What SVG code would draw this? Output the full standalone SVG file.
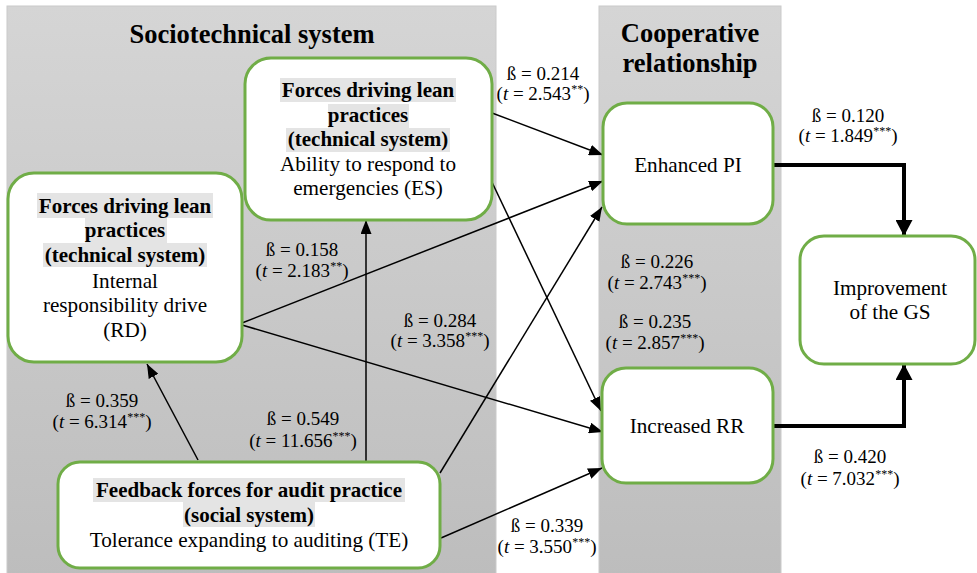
<svg xmlns="http://www.w3.org/2000/svg" width="977" height="573" viewBox="0 0 977 573" font-family="'Liberation Serif', 'Times New Roman', 'DejaVu Serif', serif">
<defs>
<linearGradient id="pg" x1="0" y1="0" x2="0" y2="1">
<stop offset="0" stop-color="#d5d5d5"/>
<stop offset="1" stop-color="#bdbdbd"/>
</linearGradient>
<marker id="ah" markerUnits="userSpaceOnUse" markerWidth="14" markerHeight="11" refX="14" refY="5.5" orient="auto">
<path d="M0,0 L14,5.5 L0,11 z" fill="#000"/>
</marker>
<marker id="ahb" markerUnits="userSpaceOnUse" markerWidth="16" markerHeight="17" refX="16" refY="8.5" orient="auto">
<path d="M0,0 L16,8.5 L0,17 z" fill="#000"/>
</marker>
</defs>
<style>
.panel{fill:url(#pg);stroke:#cacaca;stroke-width:1}
.node{fill:#fff;stroke:#70ad47;stroke-width:3}
.hl{fill:#e4e4e4}
text{font-family:'Liberation Serif','Times New Roman',serif}
.title{font-weight:bold;font-size:26.5px;fill:#000;text-anchor:middle}
.hd{font-weight:bold;font-size:21px;fill:#000;text-anchor:middle}
.tx{font-size:21.2px;fill:#000;text-anchor:middle}
.lb{font-size:19px;fill:#000;text-anchor:middle}
.sup{font-size:12px}
.ln{stroke:#000;stroke-width:1.5;fill:none;marker-end:url(#ah)}
.lnb{stroke:#000;stroke-width:4;fill:none;marker-end:url(#ahb)}
</style>

<g id="panel-sociotechnical">
<rect class="panel" x="7" y="6" width="489" height="570"/>
<text class="title" x="252" y="43">Sociotechnical system</text>
</g>
<g id="panel-cooperative">
<rect class="panel" x="599" y="6" width="182" height="570"/>
<text class="title" x="690" y="42">Cooperative</text>
<text class="title" x="690" y="72">relationship</text>
</g>

<g id="connectors">
<line class="ln" x1="492" y1="113" x2="603" y2="155"/>
<line class="ln" x1="490" y1="178" x2="601" y2="411"/>
<line class="ln" x1="242" y1="323" x2="603" y2="181"/>
<line class="ln" x1="242" y1="325" x2="603" y2="432"/>
<line class="ln" x1="366" y1="462" x2="366" y2="220"/>
<line class="ln" x1="198" y1="460" x2="147" y2="364"/>
<line class="ln" x1="440" y1="473" x2="602" y2="207"/>
<line class="ln" x1="441" y1="538" x2="602" y2="468"/>
<polyline class="lnb" points="773,165 904,165 904,236"/>
<polyline class="lnb" points="773,426 904,426 904,364"/>
</g>

<g id="labels">
<text class="lb" x="543" y="80">ß = 0.214</text>
<text class="lb" x="543" y="100">(<tspan font-style="italic">t</tspan> = 2.543<tspan class="sup" dy="-7">**</tspan><tspan dy="7">)</tspan></text>
<text class="lb" x="848" y="122">ß = 0.120</text>
<text class="lb" x="848" y="142">(<tspan font-style="italic">t</tspan> = 1.849<tspan class="sup" dy="-7">***</tspan><tspan dy="7">)</tspan></text>
<text class="lb" x="302" y="256">ß = 0.158</text>
<text class="lb" x="302" y="277">(<tspan font-style="italic">t</tspan> = 2.183<tspan class="sup" dy="-7">**</tspan><tspan dy="7">)</tspan></text>
<text class="lb" x="440" y="327">ß = 0.284</text>
<text class="lb" x="440" y="347">(<tspan font-style="italic">t</tspan> = 3.358<tspan class="sup" dy="-7">***</tspan><tspan dy="7">)</tspan></text>
<text class="lb" x="657" y="268">ß = 0.226</text>
<text class="lb" x="657" y="289">(<tspan font-style="italic">t</tspan> = 2.743<tspan class="sup" dy="-7">***</tspan><tspan dy="7">)</tspan></text>
<text class="lb" x="655" y="328">ß = 0.235</text>
<text class="lb" x="655" y="349">(<tspan font-style="italic">t</tspan> = 2.857<tspan class="sup" dy="-7">***</tspan><tspan dy="7">)</tspan></text>
<text class="lb" x="102" y="407">ß = 0.359</text>
<text class="lb" x="102" y="428">(<tspan font-style="italic">t</tspan> = 6.314<tspan class="sup" dy="-7">***</tspan><tspan dy="7">)</tspan></text>
<text class="lb" x="303" y="425">ß = 0.549</text>
<text class="lb" x="303" y="447">(<tspan font-style="italic">t</tspan> = 11.656<tspan class="sup" dy="-7">***</tspan><tspan dy="7">)</tspan></text>
<text class="lb" x="547" y="532">ß = 0.339</text>
<text class="lb" x="547" y="553">(<tspan font-style="italic">t</tspan> = 3.550<tspan class="sup" dy="-7">***</tspan><tspan dy="7">)</tspan></text>
<text class="lb" x="850" y="463">ß = 0.420</text>
<text class="lb" x="850" y="485">(<tspan font-style="italic">t</tspan> = 7.032<tspan class="sup" dy="-7">***</tspan><tspan dy="7">)</tspan></text>
</g>

<g id="node-ES">
<rect class="node" x="245" y="58" width="247" height="162" rx="26"/>
<rect class="hl" x="280" y="78" width="176" height="24"/>
<rect class="hl" x="328" y="104" width="81" height="24"/>
<rect class="hl" x="286" y="128" width="164" height="24"/>
<text class="hd" x="368" y="97">Forces driving lean</text>
<text class="hd" x="368" y="122">practices</text>
<text class="hd" x="368" y="146">(technical system)</text>
<text class="tx" x="368" y="171">Ability to respond to</text>
<text class="tx" x="368" y="195">emergencies (ES)</text>
</g>

<g id="node-RD">
<rect class="node" x="8" y="173" width="234" height="189" rx="26"/>
<rect class="hl" x="37" y="193" width="176" height="25"/>
<rect class="hl" x="85" y="218" width="82" height="25"/>
<rect class="hl" x="43" y="243" width="164" height="24"/>
<text class="hd" x="125" y="213">Forces driving lean</text>
<text class="hd" x="125" y="237">practices</text>
<text class="hd" x="125" y="262">(technical system)</text>
<text class="tx" x="125" y="288">Internal</text>
<text class="tx" x="125" y="312">responsibility drive</text>
<text class="tx" x="125" y="337">(RD)</text>
</g>

<g id="node-TE">
<rect class="node" x="58" y="462" width="382" height="106" rx="22"/>
<rect class="hl" x="93" y="478" width="312" height="24"/>
<rect class="hl" x="183" y="502" width="132" height="25"/>
<text class="hd" x="249" y="497">Feedback forces for audit practice</text>
<text class="hd" x="249" y="522">(social system)</text>
<text class="tx" x="249" y="547">Tolerance expanding to auditing (TE)</text>
</g>

<g id="node-PI">
<rect class="node" x="603" y="103" width="170" height="121" rx="24"/>
<text class="tx" x="688" y="172">Enhanced PI</text>
</g>

<g id="node-RR">
<rect class="node" x="602" y="368" width="171" height="115" rx="24"/>
<text class="tx" x="687" y="433">Increased RR</text>
</g>

<g id="node-GS">
<rect class="node" x="800" y="236" width="175" height="128" rx="24"/>
<text class="tx" x="890" y="295">Improvement</text>
<text class="tx" x="890" y="319">of the GS</text>
</g>
</svg>
